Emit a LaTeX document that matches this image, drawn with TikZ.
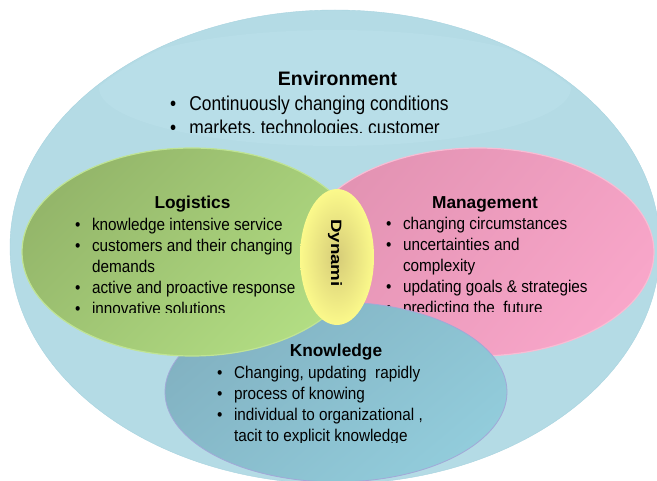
\documentclass[tikz,border=0pt]{standalone}
\usepackage{fontspec}
\setmainfont{Liberation Sans}
\newfontfamily\bodyfont[FakeStretch=0.9]{Liberation Sans}
\newfontfamily\envfont[FakeStretch=0.87]{Liberation Sans}
\newfontfamily\dynfont[FakeStretch=1.25]{Liberation Sans}

\definecolor{envblue}{HTML}{B4DBE5}
\definecolor{envedge}{HTML}{A8D3DF}
\definecolor{envsheen}{HTML}{B8DEE8}
\definecolor{loglo}{HTML}{94B66A}
\definecolor{loghi}{HTML}{B2DD83}
\definecolor{logedge}{HTML}{C0E494}
\definecolor{mgmlo}{HTML}{E393B3}
\definecolor{mgmhi}{HTML}{F8A6C9}
\definecolor{mgmedge}{HTML}{F8BDD4}
\definecolor{knwlo}{HTML}{82B2C2}
\definecolor{knwhi}{HTML}{92CCDB}
\definecolor{knwedge}{HTML}{A2A8D8}
\definecolor{dynin}{HTML}{D6CC78}
\definecolor{dynout}{HTML}{FBF98B}

\begin{document}
\begin{tikzpicture}[x=1pt, y=-1pt,
    title/.style={inner sep=0pt, anchor=base, font=\bfseries\fontsize{17.3}{20}\selectfont},
    body/.style={inner sep=0pt, anchor=base west, font=\bodyfont\fontsize{17}{21}\selectfont},
    envtitle/.style={inner sep=0pt, anchor=base, font=\bfseries\fontsize{19.5}{22}\selectfont},
    envbody/.style={inner sep=0pt, anchor=base west, font=\envfont\fontsize{20}{24}\selectfont}]
    \useasboundingbox (0,0) rectangle (657,481);

    % outer environment ellipse with a soft highlight on top
    \fill[envblue, draw=envedge] (335,247) ellipse [x radius=325, y radius=237];
    \begin{scope}
        \clip (335,247) ellipse [x radius=323, y radius=235];
        \fill[envsheen] (335,88) ellipse [x radius=236, y radius=58];
    \end{scope}

    % management (pink), behind knowledge
    \shade[top color=mgmlo, bottom color=mgmhi, shading angle=50, draw=mgmedge, line width=1.2pt]
        (478,252) ellipse [x radius=176, y radius=104];
    \node[title] (mgmtitle) at (485,209) {Management};
    \begin{scope}
        \clip (370,212) rectangle (657,312);
        \node[body] (mgmtext) at (386,230) {\begin{tabular}[t]{@{}l@{\hspace{11.5pt}}l@{}}
            \textbullet & changing circumstances\\
            \textbullet & uncertainties and\\
                        & complexity\\
            \textbullet & updating goals \& strategies\\
            \textbullet & predicting the\ \ future
        \end{tabular}};
    \end{scope}

    % knowledge (teal)
    \shade[top color=knwlo, bottom color=knwhi, shading angle=40, draw=knwedge, line width=0.8pt]
        (336,392) ellipse [x radius=171, y radius=90];
    \node[title] (knwtitle) at (336,357) {Knowledge};
    \begin{scope}
        \clip (200,362) rectangle (480,443);
        \node[body] (knwtext) at (217,379) {\begin{tabular}[t]{@{}l@{\hspace{11.5pt}}l@{}}
            \textbullet & Changing, updating\ \ rapidly\\
            \textbullet & process of knowing\\
            \textbullet & individual to organizational ,\\
                        & tacit to explicit knowledge
        \end{tabular}};
    \end{scope}

    % logistics (green)
    \shade[top color=loglo, bottom color=loghi, shading angle=45, draw=logedge, line width=1.2pt]
        (192,252) ellipse [x radius=170, y radius=104];
    \node[title] (logtitle) at (192.5,209) {Logistics};
    \begin{scope}
        \clip (60,212) rectangle (330,313);
        \node[body] (logtext) at (75,231) {\begin{tabular}[t]{@{}l@{\hspace{11.5pt}}l@{}}
            \textbullet & knowledge intensive service\\
            \textbullet & customers and their changing\\
                        & demands\\
            \textbullet & active and proactive response\\
            \textbullet & innovative solutions
        \end{tabular}};
    \end{scope}

    % dynamic core (yellow)
    \shade[inner color=dynin, outer color=dynout] (337,257) ellipse [x radius=37, y radius=68];
    \node[inner sep=0pt, rotate=-90, font=\dynfont\bfseries\fontsize{15}{18}\selectfont]
        (dyn) at (335,253) {Dynami};

    % environment text
    \node[envtitle] (envtitle) at (337.5,86) {Environment};
    \begin{scope}
        \clip (150,90) rectangle (500,132.5);
        \node[envbody] (envtext) at (170,111) {\begin{tabular}[t]{@{}l@{\hspace{13pt}}l@{}}
            \textbullet & Continuously changing conditions\\
            \textbullet & markets, technologies, customer
        \end{tabular}};
    \end{scope}
\end{tikzpicture}
\end{document}
